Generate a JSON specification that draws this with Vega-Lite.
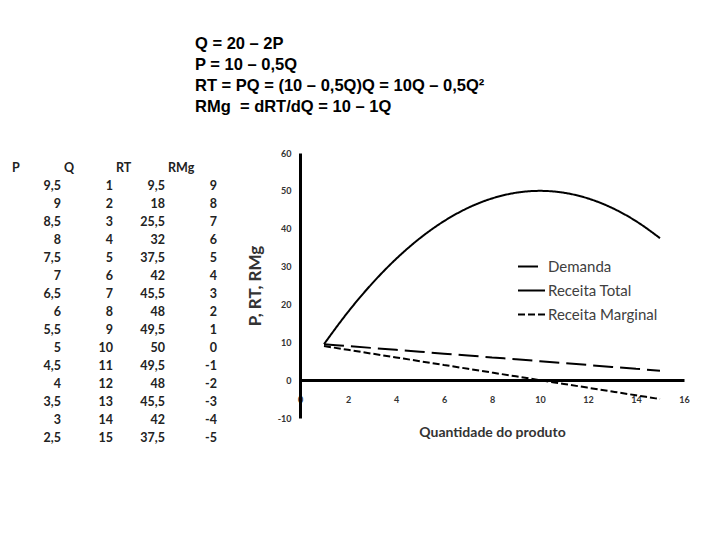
{
  "$schema": "https://vega.github.io/schema/vega-lite/v6.json",
  "padding": {"left": 12, "top": 36, "right": 0, "bottom": 0},
  "background": "white",
  "config": {
    "view": {"stroke": null},
    "locale": {"number": {"decimal": ",", "thousands": ".", "grouping": [3], "currency": ["", ""], "minus": "-"}}
  },
  "datasets": {
    "tabela": [
      {"P": 9.5, "Q": 1, "RT": 9.5, "RMg": 9},
      {"P": 9, "Q": 2, "RT": 18, "RMg": 8},
      {"P": 8.5, "Q": 3, "RT": 25.5, "RMg": 7},
      {"P": 8, "Q": 4, "RT": 32, "RMg": 6},
      {"P": 7.5, "Q": 5, "RT": 37.5, "RMg": 5},
      {"P": 7, "Q": 6, "RT": 42, "RMg": 4},
      {"P": 6.5, "Q": 7, "RT": 45.5, "RMg": 3},
      {"P": 6, "Q": 8, "RT": 48, "RMg": 2},
      {"P": 5.5, "Q": 9, "RT": 49.5, "RMg": 1},
      {"P": 5, "Q": 10, "RT": 50, "RMg": 0},
      {"P": 4.5, "Q": 11, "RT": 49.5, "RMg": -1},
      {"P": 4, "Q": 12, "RT": 48, "RMg": -2},
      {"P": 3.5, "Q": 13, "RT": 45.5, "RMg": -3},
      {"P": 3, "Q": 14, "RT": 42, "RMg": -4},
      {"P": 2.5, "Q": 15, "RT": 37.5, "RMg": -5}
    ],
    "cabecalho": [{"col": "P"}, {"col": "Q"}, {"col": "RT"}, {"col": "RMg"}]
  },
  "title": {
    "text": ["Q = 20 – 2P", "P = 10 – 0,5Q", "RT = PQ = (10 – 0,5Q)Q = 10Q – 0,5Q²", "RMg\u00a0 = dRT/dQ = 10 – 1Q"],
    "anchor": "start",
    "frame": "group",
    "dx": 183,
    "font": "Liberation Sans",
    "fontSize": 16.5,
    "fontWeight": "bold",
    "lineHeight": 21,
    "color": "black",
    "offset": 33.5
  },
  "spacing": 26,
  "hconcat": [
    {
      "width": 208,
      "height": 294,
      "layer": [
        {
          "data": {"name": "cabecalho"},
          "mark": {"type": "text", "align": "left", "baseline": "middle", "dx": -26, "font": "Lato", "fontSize": 12.5, "fontWeight": "bold", "color": "#222"},
          "encoding": {
            "x": {"field": "col", "type": "nominal", "scale": {"domain": ["P", "Q", "RT", "RMg"], "paddingInner": 0, "paddingOuter": 0}, "axis": null},
            "y": {"datum": 0, "type": "quantitative", "scale": {"domain": [-0.83, 15.5], "reverse": true, "nice": false, "zero": false}, "axis": null},
            "text": {"field": "col"}
          }
        },
        {
          "data": {"name": "tabela"},
          "transform": [{"fold": ["P", "Q", "RT", "RMg"], "as": ["col", "valor"]}],
          "mark": {"type": "text", "align": "right", "baseline": "middle", "dx": 23, "font": "Lato", "fontSize": 12.5, "fontWeight": "bold", "color": "#222"},
          "encoding": {
            "x": {"field": "col", "type": "nominal"},
            "y": {"field": "Q", "type": "quantitative"},
            "text": {"field": "valor", "type": "quantitative", "format": "~g"}
          }
        }
      ]
    },
    {
      "width": 384,
      "height": 265,
      "data": {"name": "tabela"},
      "transform": [{"fold": ["P", "RT", "RMg"], "as": ["serie", "valor"]}],
      "mark": {"type": "line", "color": "black", "strokeWidth": 2, "interpolate": "monotone"},
      "encoding": {
        "x": {
          "field": "Q", "type": "quantitative",
          "scale": {"domain": [0, 16], "nice": false, "zero": false},
          "axis": {
            "title": "Quantidade do produto", "values": [0, 2, 4, 6, 8, 10, 12, 14, 16],
            "offset": -38, "ticks": false, "grid": false, "labelFlush": false,
            "domainColor": "black", "domainWidth": 3,
            "labelFont": "Lato", "labelFontSize": 9, "labelFontWeight": "bold", "labelColor": "#333", "labelPadding": 15,
            "titleFont": "Lato", "titleFontSize": 14, "titleFontWeight": "bold", "titleColor": "#333", "titlePadding": 21
          }
        },
        "y": {
          "field": "valor", "type": "quantitative",
          "scale": {"domain": [-10, 60], "nice": false, "zero": false},
          "axis": {
            "title": "P, RT, RMg", "values": [-10, 0, 10, 20, 30, 40, 50, 60],
            "ticks": false, "grid": false,
            "domainColor": "black", "domainWidth": 3,
            "labelFont": "Lato", "labelFontSize": 9, "labelFontWeight": "bold", "labelColor": "#333", "labelPadding": 9,
            "titleFont": "Lato", "titleFontSize": 17, "titleFontWeight": "bold", "titleColor": "#333", "titlePadding": 13
          }
        },
        "strokeDash": {
          "field": "serie", "type": "nominal",
          "scale": {"domain": ["P", "RT", "RMg"], "range": [[20, 7], [1, 0], [7, 3]]},
          "legend": {
            "title": null, "orient": "none", "legendX": 505, "legendY": 99,
            "labelExpr": "datum.label == 'P' ? 'Demanda' : datum.label == 'RT' ? 'Receita Total' : 'Receita Marginal'",
            "labelFont": "Lato", "labelFontSize": 15, "labelColor": "#404040", "labelOffset": 2,
            "symbolType": "stroke", "symbolSize": 729, "symbolStrokeColor": "black", "symbolStrokeWidth": 2,
            "rowPadding": 1
          }
        }
      }
    }
  ]
}
